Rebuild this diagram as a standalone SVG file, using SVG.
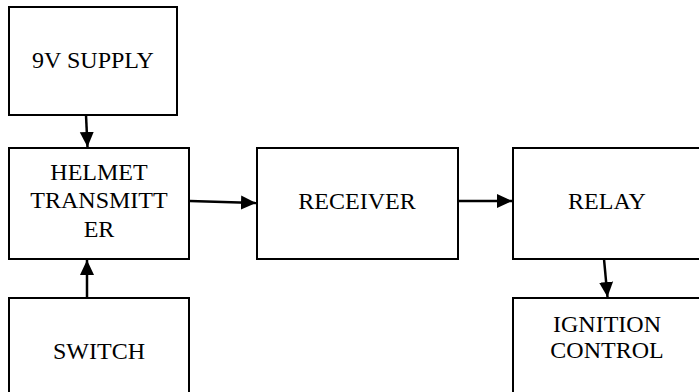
<svg xmlns="http://www.w3.org/2000/svg" width="699" height="392" viewBox="0 0 699 392">
  <style>
    .box { fill: #ffffff; stroke: #000000; stroke-width: 2; }
    .lbl { font-family: "Liberation Serif", "Times New Roman", serif; font-size: 24px; fill: #000000; text-anchor: middle; }
    .wire { fill: none; stroke: #000000; stroke-width: 2.5; }
  </style>
  <defs>
    <marker id="arrow" markerUnits="userSpaceOnUse" markerWidth="16" markerHeight="16" viewBox="0 0 16 16" refX="15" refY="8" orient="auto">
      <path d="M0,1 L15,8 L0,15 Z" fill="#000000"/>
    </marker>
  </defs>
  <rect width="699" height="392" fill="#ffffff"/>

  <g id="supply">
    <rect class="box" x="9" y="7" width="168" height="108"/>
    <text class="lbl" x="93" y="68">9V SUPPLY</text>
  </g>

  <g id="transmitter">
    <rect class="box" x="9" y="148" width="180" height="111"/>
    <text class="lbl" x="99" y="180">HELMET</text>
    <text class="lbl" x="99" y="208">TRANSMITT</text>
    <text class="lbl" x="99" y="237">ER</text>
  </g>

  <g id="switch">
    <rect class="box" x="9" y="298" width="180" height="110"/>
    <text class="lbl" x="99" y="359">SWITCH</text>
  </g>

  <g id="receiver">
    <rect class="box" x="257" y="148" width="201" height="111"/>
    <text class="lbl" x="357" y="209">RECEIVER</text>
  </g>

  <g id="relay">
    <rect class="box" x="513" y="148" width="200" height="111"/>
    <text class="lbl" x="607" y="209">RELAY</text>
  </g>

  <g id="ignition">
    <rect class="box" x="513" y="298" width="200" height="110"/>
    <text class="lbl" x="607" y="332">IGNITION</text>
    <text class="lbl" x="607" y="358">CONTROL</text>
  </g>

  <g id="connectors">
    <path class="wire" d="M86,115 L87.5,147" marker-end="url(#arrow)"/>
    <path class="wire" d="M87,298 L87,260" marker-end="url(#arrow)"/>
    <path class="wire" d="M190,201 L256,203" marker-end="url(#arrow)"/>
    <path class="wire" d="M458,201 L512,201" marker-end="url(#arrow)"/>
    <path class="wire" d="M604,259 L607.5,297" marker-end="url(#arrow)"/>
  </g>
</svg>
